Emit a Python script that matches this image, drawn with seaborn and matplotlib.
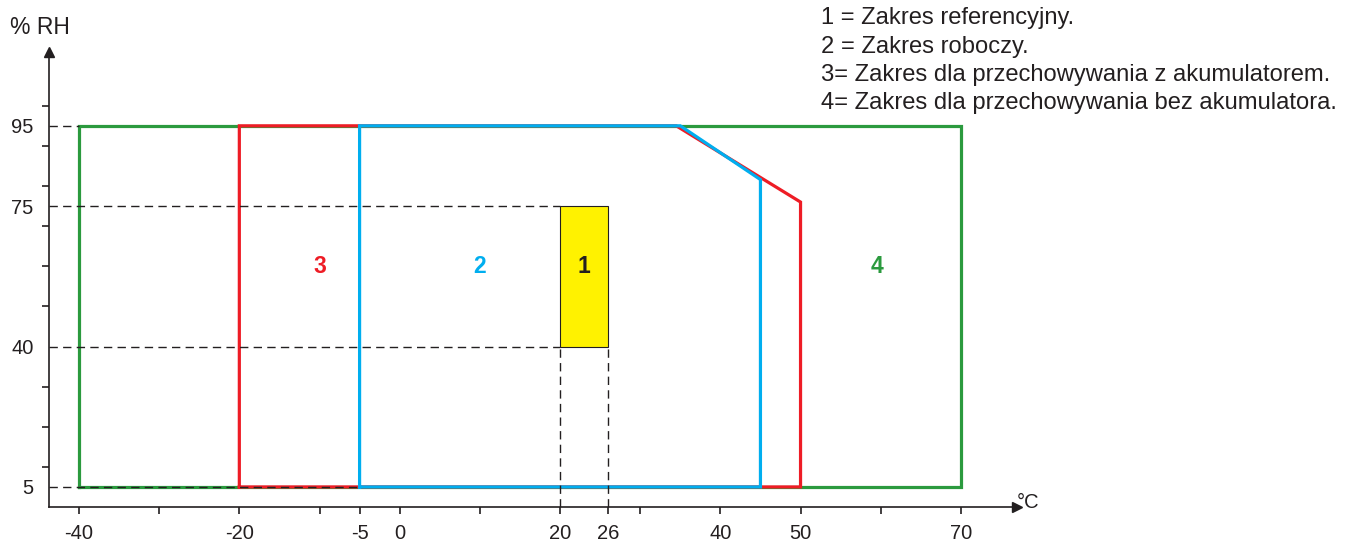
import numpy as np
import pandas as pd
import matplotlib
matplotlib.use("Agg")
import matplotlib.pyplot as plt
import seaborn as sns

# zakresy (temperatura °C, wilgotnosc %RH)
zone4_t = [-40, 70, 70, -40, -40]
zone4_rh = [5, 5, 95, 95, 5]
zone3_t = [-20, 50, 50, 34.5, -20, -20]
zone3_rh = [5, 5, 76, 95, 95, 5]
zone2_t = [-5, 45, 45, 35, -5, -5]
zone2_rh = [5, 5, 81.6, 95, 95, 5]
zone1_t = [20, 26, 26, 20]
zone1_rh = [40, 40, 75, 75]

zone_labels = ["1", "2", "3", "4"]
label_t = [23, 10, -10, 59.5]
label_rh = [60, 60, 60, 60]

xticks_major = [-40, -20, -5, 0, 20, 26, 40, 50, 70]
xticks_minor = [-30, -10, 10, 30, 60]
yticks_major = [5, 40, 75, 95]
yticks_minor = [10, 20, 30, 50, 60, 70, 80, 90, 100]

legend_lines = [
    "1 = Zakres referencyjny.",
    "2 = Zakres roboczy.",
    "3= Zakres dla przechowywania z akumulatorem.",
    "4= Zakres dla przechowywania bez akumulatora.",
]

GREEN = "#2b9a3e"
RED = "#ee1c25"
BLUE = "#00aeef"
YELLOW = "#fff200"
DARK = "#231f20"

sns.set_theme(style="white")
plt.rcParams['font.family'] = ['Liberation Sans', 'DejaVu Sans']

fig = plt.figure(figsize=(13.54, 5.45), dpi=100)
ax = fig.add_axes([49/1354, 38/545, (1017-49)/1354, (507-52)/545])
ax.set_xlim(-43.74, 77)
ax.set_ylim(0, 113.4)

lw = 2.3
for t, rh, c, z in [(zone4_t, zone4_rh, GREEN, 2), (zone3_t, zone3_rh, RED, 3), (zone2_t, zone2_rh, BLUE, 4)]:
    sns.lineplot(x=t, y=rh, sort=False, estimator=None, color=c, lw=lw, ax=ax,
                 zorder=z, solid_joinstyle="miter", solid_capstyle="projecting")

ax.fill(zone1_t, zone1_rh, facecolor=YELLOW, edgecolor=DARK, lw=0.8, zorder=5)

# linie pomocnicze
dash = dict(color=DARK, lw=1.0, dashes=(6, 3.8), zorder=6)
x0 = ax.get_xlim()[0]
ax.plot([x0, -40], [95, 95], **dash)
ax.plot([x0, 20], [75, 75], **dash)
ax.plot([x0, 20], [40, 40], **dash)
ax.plot([x0, -5], [5, 5], **dash)
ax.plot([20, 20], [0, 40], **dash)
ax.plot([26, 26], [0, 40], **dash)

label_colors = [DARK, BLUE, RED, GREEN]
for s, t, rh, c in zip(zone_labels, label_t, label_rh, label_colors):
    ax.text(t, rh, s, color=c, fontsize=16.5, fontweight="bold", ha="center", va="center", zorder=7)

# osie
for side in ["top", "right"]:
    ax.spines[side].set_visible(False)
for side in ["left", "bottom"]:
    ax.spines[side].set_color(DARK)
    ax.spines[side].set_linewidth(1.2)
ax.plot(1, 0, ">", color=DARK, ms=7, transform=ax.transAxes, clip_on=False)
ax.plot(0, 1, "^", color=DARK, ms=7, transform=ax.transAxes, clip_on=False)

ax.set_xticks(xticks_major)
ax.set_xticklabels([str(v) for v in xticks_major])
ax.set_xticks(xticks_minor, minor=True)
ax.set_yticks(yticks_major)
ax.set_yticklabels([str(v) for v in yticks_major])
ax.set_yticks(yticks_minor, minor=True)
ax.tick_params(axis="x", which="both", direction="out", length=5, width=1.2, color=DARK,
               labelsize=14.5, labelcolor=DARK, pad=7, bottom=True)
ax.tick_params(axis="y", which="major", length=0, labelsize=14.5, labelcolor=DARK, pad=11, left=True)
ax.tick_params(axis="y", which="minor", direction="out", length=5, width=1.2, color=DARK, left=True)
ax.grid(False)

fig.text(10/1354, 1 - 27/545, "% RH", fontsize=16.5, color=DARK, va="center", ha="left")
fig.text(1017/1354, 1 - 503/545, "°C", fontsize=14.5, color=DARK, va="center", ha="left")

for i, line in enumerate(legend_lines):
    fig.text(821/1354, 1 - (18.3 + 28.3*i)/545, line, fontsize=17.1, color=DARK, va="center", ha="left")

fig.savefig("out.png", dpi=100)
